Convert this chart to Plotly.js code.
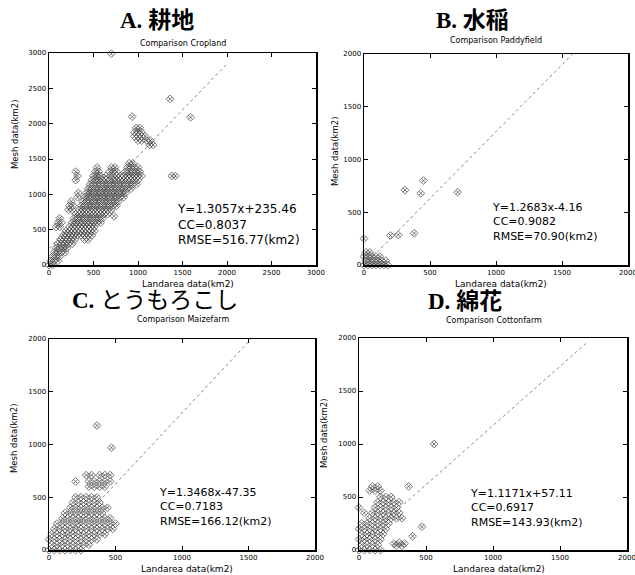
<!DOCTYPE html>
<html><head><meta charset="utf-8">
<script src="https://cdn.plot.ly/plotly-3.0.1.min.js"></script>
<style>body{margin:0;background:#fff}</style>
</head><body>
<div id="chart" style="width:635px;height:575px"></div>
<script>
// ---- Data ----
const cropX = [
 0,40, 20,60,100, 40,80,120, 60,100,140,180, 80,120,160,200, 100,140,180,220,260,
 130,170,210,250,290,400,440, 160,200,240,280,320,360,400,440,480,
 190,230,270,310,350,390,430,470,510, 80,120,230,270,310,350,390,430,470,510,
 100,140,260,300,340,380,420,460,500,540,580, 120,280,320,360,400,440,480,520,560,600,730,
 300,340,380,420,460,500,540,580,620,660, 220,260,340,380,420,460,500,540,580,620,660,700,
 230,270,360,400,440,480,520,560,600,640,680,720,760, 250,380,420,460,500,540,580,620,660,700,740,780,
 320,400,440,480,520,560,600,640,680,720,760,800,840, 330,420,460,500,540,580,620,660,700,740,780,820,860,
 440,480,520,560,600,640,680,720,760,800,840,880,920, 460,500,540,580,620,660,700,740,780,820,860,900,940,980,
 300,480,520,560,600,640,680,720,760,800,840,880,920,960,1000,
 320,500,540,580,640,700,760,800,840,880,920,960,1000,1040,1380,1420,
 300,520,560,680,720,760,860,900,940,980,1020, 540,700,740,880,920,960,1000, 900,940,
 1130,1170, 1000,1040,1100,1140, 960,1000,1040,1080, 960,1000,1040, 980,1020,
 700,935,1360,1590
];
const cropY = [
 0,0, 60,60,60, 120,120,120, 180,180,180,180, 240,240,240,240, 300,300,300,300,300,
 360,360,360,360,360,360,360, 420,420,420,420,420,420,420,420,420,
 480,480,480,480,480,480,480,480,480, 540,540,540,540,540,540,540,540,540,540,
 600,600,600,600,600,600,600,600,600,600,600, 660,660,660,660,660,660,660,660,660,660,690,
 720,720,720,720,720,720,720,720,720,720, 780,780,780,780,780,780,780,780,780,780,780,780,
 840,840,840,840,840,840,840,840,840,840,840,840,840, 900,900,900,900,900,900,900,900,900,900,900,900,
 960,960,960,960,960,960,960,960,960,960,960,960,960, 1020,1020,1020,1020,1020,1020,1020,1020,1020,1020,1020,1020,1020,
 1080,1080,1080,1080,1080,1080,1080,1080,1080,1080,1080,1080,1080, 1140,1140,1140,1140,1140,1140,1140,1140,1140,1140,1140,1140,1140,1140,
 1200,1200,1200,1200,1200,1200,1200,1200,1200,1200,1200,1200,1200,1200,1200,
 1260,1260,1260,1260,1260,1260,1260,1260,1260,1260,1260,1260,1260,1260,1260,1260,
 1320,1320,1320,1320,1320,1320,1320,1320,1320,1320,1320, 1380,1380,1380,1380,1380,1380,1380, 1440,1440,
 1700,1700, 1760,1760,1760,1760, 1820,1820,1820,1820, 1880,1880,1880, 1940,1940,
 2990,2100,2350,2090
];

const paddyX = [0,30,60,90,120,150,180, 15,45,75,105,135,165, 0,30,60,90,120, 15,45,
 0,200,260,380,310,430,450,710];
const paddyY = [0,0,0,0,0,0,0, 40,40,40,40,40,40, 80,80,80,80,80, 120,120,
 250,280,285,300,710,680,800,690];

const maizeX = [
 0,40,80,120,160,200,240, 20,60,100,140,180,220,260,300,
 0,40,80,120,160,200,240,280,320,360, 20,60,100,140,180,220,260,300,340,380,420,
 40,80,120,160,200,240,280,320,360,400,440,480, 60,100,140,180,220,260,300,340,380,420,460,500,
 100,140,180,220,260,300,340,380,420,460, 120,160,200,240,280,320,360,400,
 160,200,240,280,320,360,400,440, 180,220,260,300,340,380, 200,240,280,320,360,
 300,340,380,420, 200,300,340,380,420,460, 280,320,380,420,460,
 360,470
];
const maizeY = [
 0,0,0,0,0,0,0, 50,50,50,50,50,50,50,50,
 100,100,100,100,100,100,100,100,100,100, 150,150,150,150,150,150,150,150,150,150,150,
 200,200,200,200,200,200,200,200,200,200,200,200, 250,250,250,250,250,250,250,250,250,250,250,250,
 300,300,300,300,300,300,300,300,300,300, 350,350,350,350,350,350,350,350,
 400,400,400,400,400,400,400,400, 450,450,450,450,450,450, 500,500,500,500,500,
 600,600,600,600, 650,650,650,650,650,650, 710,710,710,710,710,
 1180,970
];

const cottonX = [
 0,40,80,120,160,260,300,340, 20,60,100,140,280,320, 0,40,80,120,160,
 20,60,100,140,180,400, 0,40,80,120,160,200,470, 20,60,100,140,180,220,
 80,120,160,200,240,280,320, 40,100,140,180,220,260,300, 0,120,160,200,240,280,
 140,180,220,260,300, 160,200,240, 80,120,160, 100,140,370, 560
];
const cottonY = [
 0,0,0,0,0,60,70,60, 50,50,50,50,40,40, 100,100,100,100,100,
 150,150,150,150,150,130, 200,200,200,200,200,200,220, 250,250,250,250,250,250,
 300,300,300,300,300,300,300, 350,350,350,350,350,350,350, 400,400,400,400,400,400,
 450,450,450,450,450, 500,500,500, 560,560,560, 600,600,600, 1000
];

const fitSlope = [1.3057, 1.2683, 1.3468, 1.1171];
const fitIntercept = [235.46, -4.16, -47.35, 57.11];
const fitXEnd = [2000, 1580, 1520, 1700];
const axisMax = [3000, 2000, 2000, 2000];
const tickValsA = [0, 500, 1000, 1500, 2000, 2500, 3000];
const tickValsB = [0, 500, 1000, 1500, 2000];

const panelLetters = ['A.', 'B.', 'C.', 'D.'];
const panelNames = ['耕地', '水稲', 'とうもろこし', '綿花'];
const subTitles = ['Comparison Cropland', 'Comparison Paddyfield', 'Comparison Maizefarm', 'Comparison Cottonfarm'];
const eqText = ['Y=1.3057x+235.46', 'Y=1.2683x-4.16', 'Y=1.3468x-47.35', 'Y=1.1171x+57.11'];
const ccText = ['CC=0.8037', 'CC=0.9082', 'CC=0.7183', 'CC=0.6917'];
const rmseText = ['RMSE=516.77(km2)', 'RMSE=70.90(km2)', 'RMSE=166.12(km2)', 'RMSE=143.93(km2)'];
const xTitle = 'Landarea data(km2)';
const yTitle = 'Mesh data(km2)';

// ---- Layout geometry (pixels in the 635x575 page) ----
const W = 635, H = 575;
const plotBox = [ // left, right, top, bottom
  [49, 316, 53, 265],
  [364, 628, 54, 265],
  [49, 315, 339, 550],
  [359, 627, 338, 550]
];
const nameBold = [true, true, false, true];
const bigTitlePos = [[157, 21], [472, 20], [155, 300], [465, 301]];
const subTitlePos = [[183, 43], [496, 40], [183, 319], [494, 320]];
const xTitlePos = [[188, 284], [501, 284], [187, 569], [499, 569]];
const yTitlePos = [[15, 135], [335, 151], [14, 439], [324, 434]];
const statPos = [[175, 225], [490, 222], [157, 507], [468, 508]];

const px = v => v / W, py = v => 1 - v / H;
const xs = [cropX, paddyX, maizeX, cottonX];
const ys = [cropY, paddyY, maizeY, cottonY];

const traces = [];
const layout = {
  width: W, height: H, margin: {l: 0, r: 0, t: 0, b: 0},
  paper_bgcolor: '#fff', plot_bgcolor: '#fff', showlegend: false,
  annotations: []
};
const tickFont = {family: 'DejaVu Sans', size: 7, color: '#000'};

for (let i = 0; i < 4; i++) {
  const s = i === 0 ? '' : String(i + 1);
  const b = plotBox[i];
  const common = {
    range: [0, axisMax[i]], tickvals: i === 0 ? tickValsA : tickValsB,
    ticks: 'inside', ticklen: 4, tickwidth: 1, tickcolor: '#000',
    showline: true, linecolor: '#000', linewidth: 1.5, mirror: 'ticks',
    showgrid: false, zeroline: false, tickfont: tickFont, ticklabeloverflow: 'allow'
  };
  layout['xaxis' + s] = Object.assign({domain: [px(b[0]), px(b[1])], anchor: 'y' + s}, common);
  layout['yaxis' + s] = Object.assign({domain: [py(b[3]), py(b[2])], anchor: 'x' + s}, common);

  const x0 = Math.max(0, -fitIntercept[i] / fitSlope[i]);
  const x1 = fitXEnd[i];
  traces.push({
    type: 'scatter', mode: 'lines', xaxis: 'x' + s, yaxis: 'y' + s,
    x: [x0, x1], y: [fitSlope[i] * x0 + fitIntercept[i], fitSlope[i] * x1 + fitIntercept[i]],
    line: {color: '#888', width: 1, dash: 'dot'}, hoverinfo: 'skip'
  });
  traces.push({
    type: 'scatter', mode: 'markers', xaxis: 'x' + s, yaxis: 'y' + s,
    x: xs[i], y: ys[i], cliponaxis: false,
    marker: {symbol: 'diamond-x-open', size: 6, color: '#444', line: {width: 0.7, color: '#444'}}
  });

  const A = layout.annotations;
  const nm = nameBold[i] ? '<b>' + panelNames[i] + '</b>' : panelNames[i];
  A.push({text: '<b>' + panelLetters[i] + '</b> ' + nm, xref: 'paper', yref: 'paper',
    x: px(bigTitlePos[i][0]), y: py(bigTitlePos[i][1]), xanchor: 'center', yanchor: 'middle', showarrow: false,
    font: {family: 'Liberation Serif, Noto Sans CJK JP', size: 23, color: '#000'}});
  A.push({text: subTitles[i], xref: 'paper', yref: 'paper',
    x: px(subTitlePos[i][0]), y: py(subTitlePos[i][1]), xanchor: 'center', yanchor: 'middle', showarrow: false,
    font: {family: 'DejaVu Sans', size: 8, color: '#000'}});
  A.push({text: xTitle, xref: 'paper', yref: 'paper',
    x: px(xTitlePos[i][0]), y: py(xTitlePos[i][1]), xanchor: 'center', yanchor: 'middle', showarrow: false,
    font: {family: 'DejaVu Sans', size: 9, color: '#000'}});
  A.push({text: yTitle, xref: 'paper', yref: 'paper', textangle: -90,
    x: px(yTitlePos[i][0]), y: py(yTitlePos[i][1]), xanchor: 'center', yanchor: 'middle', showarrow: false,
    font: {family: 'DejaVu Sans', size: 8.5, color: '#000'}});
  A.push({text: eqText[i] + '<br>' + ccText[i] + '<br>' + rmseText[i], xref: 'paper', yref: 'paper',
    x: px(statPos[i][0]), y: py(statPos[i][1]), xanchor: 'left', yanchor: 'middle', align: 'left', showarrow: false,
    font: {family: 'DejaVu Sans', size: i === 0 ? 12 : 11, color: '#000'}});
}

Plotly.newPlot('chart', traces, layout, {staticPlot: true, displayModeBar: false});
</script>
</body></html>
